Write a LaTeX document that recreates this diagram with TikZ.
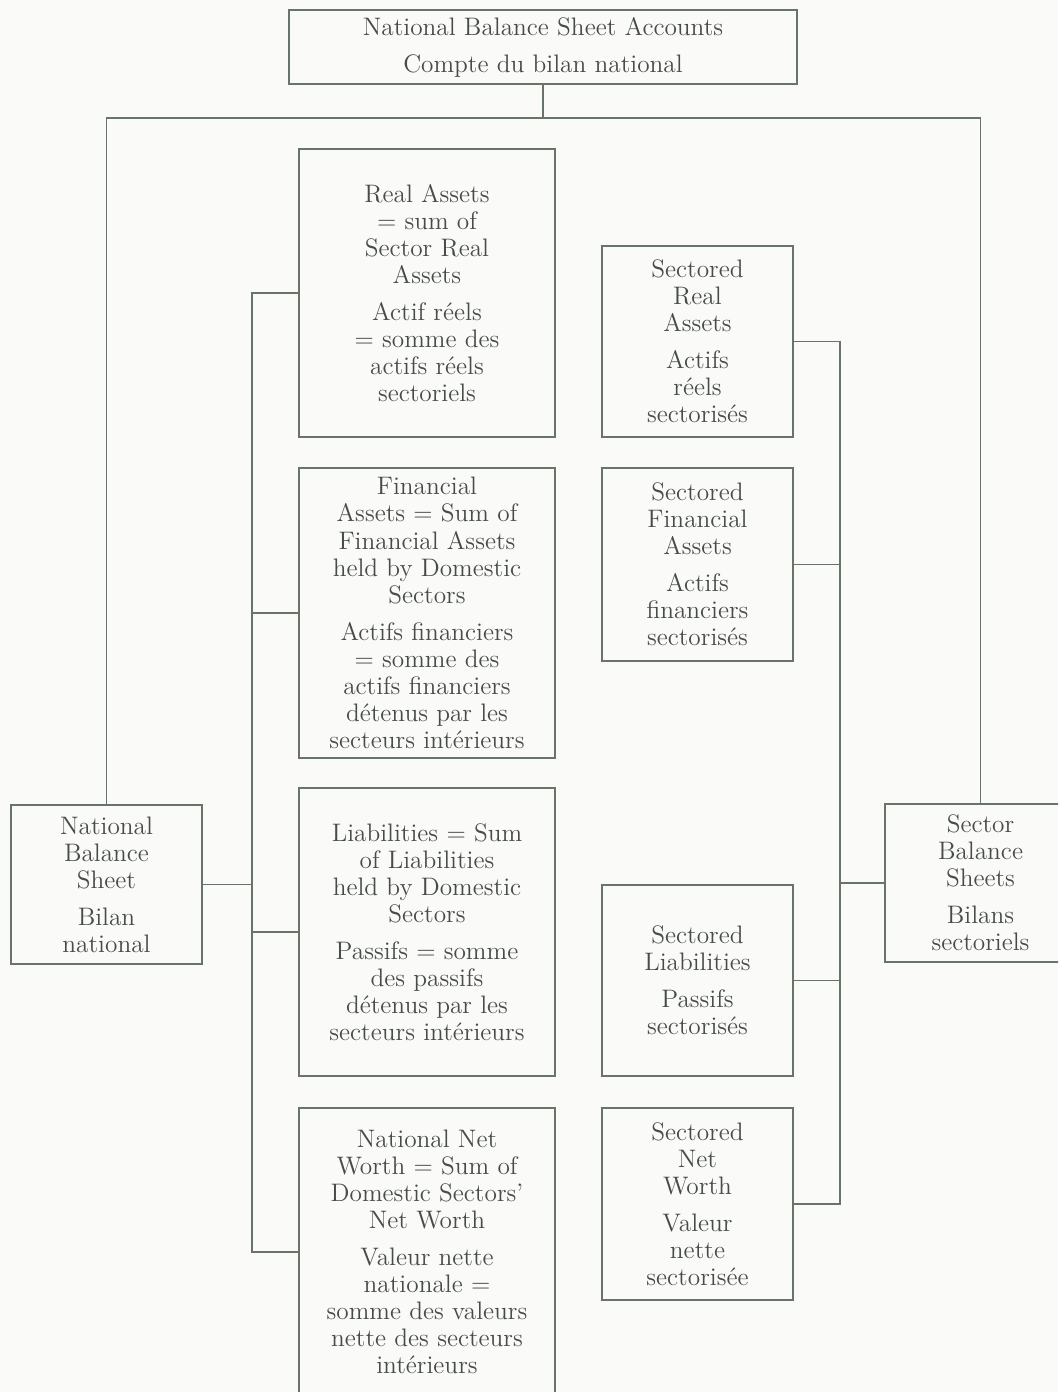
\documentclass[tikz,border=0pt]{standalone}
\usepackage[RGB]{xcolor}
\usepackage{tikz}
\definecolor{ink}{RGB}{70,76,70}
\definecolor{rule}{RGB}{105,116,105}
\definecolor{paper}{RGB}{250,250,248}
\newcommand{\gap}{\\[5.7pt]}
\newcommand{\px}{0.02cm}
\tikzset{
  sheet/.style={draw=rule, line width=1.1pt, text=ink, align=center, inner sep=0pt,
    font=\fontsize{14.4}{15.4}\selectfont},
  link/.style={draw=rule, line width=1.1pt},
}
\newcommand{\sheetnode}[6]{\node[sheet, minimum width=#4*\px, minimum height=#5*\px] (#1) at (#2,#3) {#6};}

\begin{document}
\begin{tikzpicture}[x=\px, y=-\px]
\fill[paper] (0,0) rectangle (1058,1392);
\clip (0,0) rectangle (1058,1392);
\sheetnode{top}{543}{47}{508}{74}{National Balance Sheet Accounts\gap Compte du bilan national}
\sheetnode{nbs}{106.5}{884.5}{191}{159}{National\\ Balance\\ Sheet\gap Bilan\\ national}
\sheetnode{sbs}{980.5}{883}{191}{158}{Sector\\ Balance\\ Sheets\gap Bilans\\ sectoriels}
% national column
\sheetnode{ra}{427}{293}{256}{288}{Real Assets\\ = sum of\\ Sector Real\\ Assets\gap Actif réels\\ = somme des\\ actifs réels\\ sectoriels}
\sheetnode{fa}{427}{613}{256}{290}{Financial\\ Assets = Sum of\\ Financial Assets\\ held by Domestic\\ Sectors\gap Actifs financiers\\ = somme des\\ actifs financiers\\ détenus par les\\ secteurs intérieurs}
\sheetnode{li}{427}{932}{256}{288}{Liabilities = Sum\\ of Liabilities\\ held by Domestic\\ Sectors\gap Passifs = somme\\ des passifs\\ détenus par les\\ secteurs intérieurs}
\sheetnode{nw}{427}{1252}{256}{288}{National Net\\ Worth = Sum of\\ Domestic Sectors'\\ Net Worth\gap Valeur nette\\ nationale =\\ somme des valeurs\\ nette des secteurs\\ intérieurs}
% sectored column
\sheetnode{sra}{697.5}{341.5}{191}{191}{Sectored\\ Real\\ Assets\gap Actifs\\ réels\\ sectorisés}
\sheetnode{sfa}{697.5}{564.5}{191}{193}{Sectored\\ Financial\\ Assets\gap Actifs\\ financiers\\ sectorisés}
\sheetnode{sli}{697.5}{980.5}{191}{191}{Sectored\\ Liabilities\gap Passifs\\ sectorisés}
\sheetnode{snw}{697.5}{1204}{191}{192}{Sectored\\ Net\\ Worth\gap Valeur\\ nette\\ sectorisée}
\coordinate (tj) at (543,118);
\coordinate (lb) at (252,0);
\coordinate (rb) at (840,0);
\draw[link] (top.south) -- (tj);
\draw[link] (nbs.north) |- (tj) -| (sbs.north);
\draw[link] (ra.west) -| (lb |- nw.west) -- (nw.west);
\foreach \n in {fa,li}{
  \draw[link] (\n.west) -- (lb |- \n.west);
}
\draw[link] (nbs.east) -- (lb |- nbs.east);
\draw[link] (sra.east) -| (rb |- snw.east) -- (snw.east);
\foreach \n in {sfa,sli}{
  \draw[link] (\n.east) -- (rb |- \n.east);
}
\draw[link] (sbs.west) -- (rb |- sbs.west);
\end{tikzpicture}
\end{document}
